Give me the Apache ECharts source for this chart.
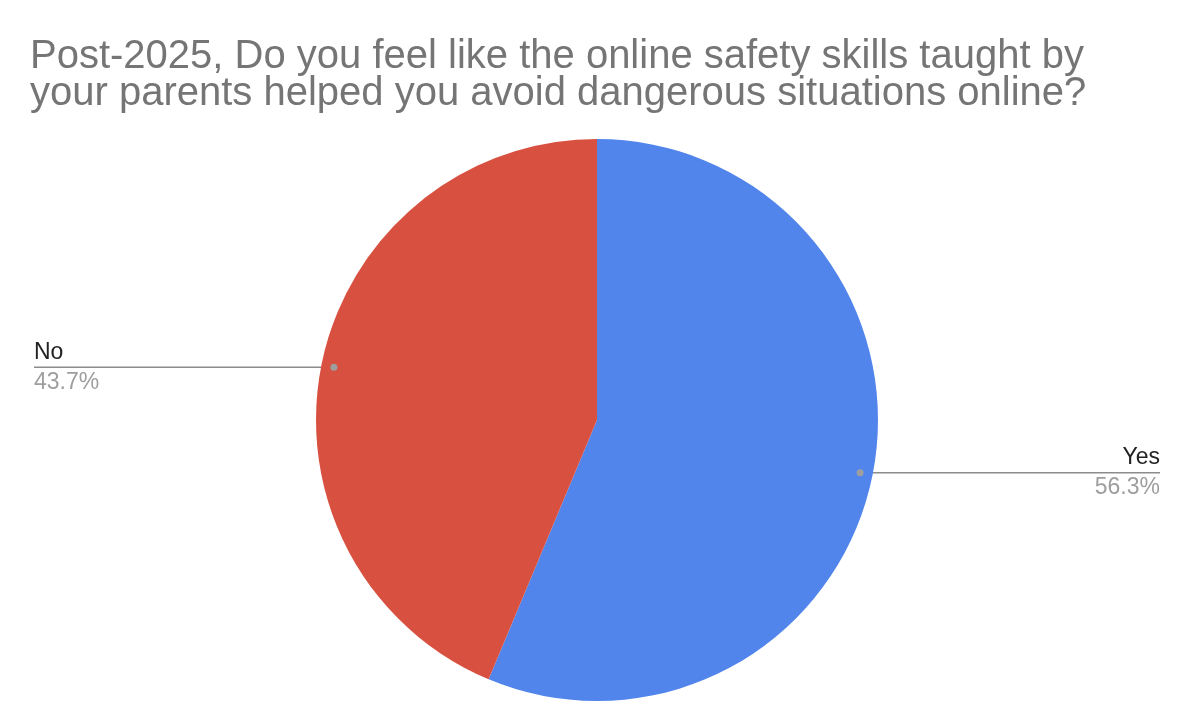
<!DOCTYPE html>
<html>
<head>
<meta charset="utf-8">
<script src="https://cdn.jsdelivr.net/npm/echarts@6/dist/echarts.min.js"></script>
<style>
html,body{margin:0;padding:0;background:#fff;}
#chart{width:1194px;height:727px;}
</style>
</head>
<body>
<div id="chart"></div>
<script>
const titleText = "Post-2025, Do you feel like the online safety skills taught by\nyour parents helped you avoid dangerous situations online?";
const categories = ["Yes", "No"];
const percentages = [56.3, 43.7];
const colors = ["#5185ec", "#d85140"];

const FONT = "'Liberation Sans', Arial, sans-serif";
const CX = 597, CY = 420, R = 281;
const DOT_RATIO = 0.955;
const LEFT_EDGE = 34, RIGHT_EDGE = 1160;

const chart = echarts.init(document.getElementById('chart'), null, {renderer: 'canvas'});
const dots = [];
let dotsDrawn = false;

const option = {
  backgroundColor: '#ffffff',
  animation: false,
  title: {
    text: titleText,
    left: 30,
    top: 38,
    padding: 0,
    textStyle: {
      fontFamily: FONT,
      fontSize: 40,
      fontWeight: 'normal',
      color: '#757575',
      lineHeight: 37
    }
  },
  series: [{
    type: 'pie',
    center: [CX, CY],
    radius: R,
    startAngle: 90,
    clockwise: true,
    data: categories.map((c, i) => ({name: c, value: percentages[i], itemStyle: {color: colors[i]}})),
    label: {
      show: true,
      alignTo: 'edge',
      edgeDistance: 30,
      fontFamily: FONT,
      formatter: p => '{n|' + p.name + '}\n{p|' + p.value.toFixed(1) + '%}',
      rich: {
        n: {fontSize: 23, color: '#222222', lineHeight: 30, fontFamily: FONT},
        p: {fontSize: 23, color: '#9e9e9e', lineHeight: 30, fontFamily: FONT}
      }
    },
    labelLine: {
      show: true,
      length: 10,
      length2: 10,
      lineStyle: {color: '#8c8c8c', width: 1.3}
    },
    labelLayout: function (params) {
      const pts = params.labelLinePoints;
      if (!pts) return {};
      const p0 = pts[0];
      const dx = (p0[0] - CX) * DOT_RATIO + CX;
      const dy = (p0[1] - CY) * DOT_RATIO + CY;
      const isLeft = dx < CX;
      dots[params.dataIndex] = [dx, dy];
      const ex = isLeft ? LEFT_EDGE : RIGHT_EDGE;
      return {
        x: ex,
        y: dy,
        align: isLeft ? 'left' : 'right',
        verticalAlign: 'middle',
        labelLinePoints: [[dx, dy], [dx, dy], [ex, dy]]
      };
    }
  }]
};

chart.setOption(option);

function drawDots() {
  if (dotsDrawn) return;
  dotsDrawn = true;
  chart.setOption({
    graphic: dots.filter(Boolean).map(d => ({
      type: 'circle',
      shape: {cx: d[0], cy: d[1], r: 3.5},
      style: {fill: '#9e9e9e'},
      z: 100
    }))
  });
}
chart.on('finished', drawDots);
setTimeout(drawDots, 300);
</script>
</body>
</html>
